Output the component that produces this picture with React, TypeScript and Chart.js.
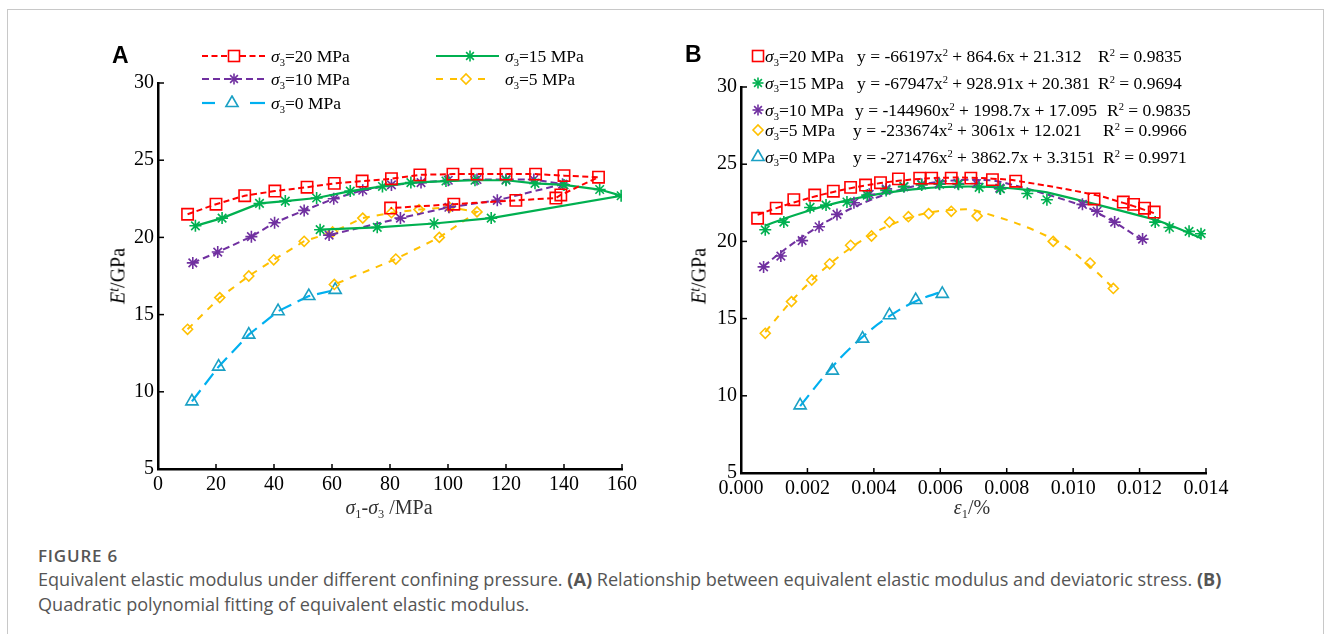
import React, { useEffect, useRef } from "react";
import { Chart, registerables } from "chart.js";

Chart.register(...registerables);

// ---------------- DATA ----------------
// Confining pressures (MPa)
const pressureLabels = ["20", "15", "10", "5", "0"];

// Panel A x values: deviatoric stress σ1-σ3 (MPa), in test order
const stress20 = [10.2, 20, 29.9, 40.3, 51.4, 60.8, 70.4, 80.5, 90.3, 101.7, 110, 120, 130.2, 140, 151.9, 138.9, 137.2, 123.4, 102, 80.2];
const stress15 = [12.9, 22.1, 35.0, 43.9, 54.7, 66.3, 77.4, 87.2, 99.3, 109.3, 120, 130, 140, 152.3, 159.7, 114.9, 95.2, 75.6, 55.9];
const stress10 = [12, 20.6, 32.2, 40.2, 50.4, 60.6, 70.6, 80.5, 90.7, 100.1, 110, 120, 129.6, 139.5, 117, 100.3, 83.6, 59];
const stress5 = [10.2, 21.3, 31.3, 39.9, 50.4, 60.2, 70.6, 80.5, 90, 100.5, 110, 97, 82, 60.8];
const stress0 = [11.7, 20.9, 31.3, 41.4, 52, 61.1];

// Panel B x values: axial strain ε1
const strain20 = [0.0005, 0.00106, 0.00159, 0.00222, 0.00278, 0.0033, 0.00375, 0.0042, 0.00474, 0.00538, 0.00574, 0.00633, 0.00692, 0.00757, 0.00827, 0.01063, 0.01151, 0.01182, 0.01215, 0.01244];
const strain15 = [0.00073, 0.00129, 0.00208, 0.00256, 0.00319, 0.0038, 0.00437, 0.0049, 0.00544, 0.00598, 0.00655, 0.00717, 0.00781, 0.00862, 0.00921, 0.01247, 0.0129, 0.01349, 0.01385];
const strain10 = [0.00068, 0.0012, 0.00184, 0.00235, 0.00289, 0.0034, 0.00386, 0.00437, 0.00491, 0.00544, 0.00596, 0.00653, 0.00709, 0.00779, 0.01028, 0.01072, 0.01125, 0.01209];
const strain5 = [0.00073, 0.00152, 0.00213, 0.00267, 0.0033, 0.00393, 0.00447, 0.00504, 0.00565, 0.00633, 0.00711, 0.0094, 0.01051, 0.01121];
const strain0 = [0.00178, 0.00275, 0.00366, 0.00447, 0.00526, 0.00606];

// Equivalent elastic modulus E^t (GPa)
const modulus20 = [21.5, 22.15, 22.7, 23.0, 23.25, 23.5, 23.65, 23.8, 24.05, 24.1, 24.1, 24.1, 24.1, 24.0, 23.9, 22.75, 22.55, 22.4, 22.15, 21.9];
const modulus15 = [20.75, 21.25, 22.2, 22.35, 22.55, 23.0, 23.3, 23.55, 23.65, 23.7, 23.7, 23.5, 23.4, 23.1, 22.7, 21.25, 20.9, 20.65, 20.5];
const modulus10 = [18.35, 19.05, 20.05, 20.95, 21.75, 22.5, 23.05, 23.4, 23.55, 23.7, 23.75, 23.75, 23.75, 23.45, 22.4, 21.95, 21.25, 20.15];
const modulus5 = [14.05, 16.1, 17.5, 18.55, 19.75, 20.35, 21.25, 21.6, 21.8, 21.95, 21.65, 20.0, 18.6, 16.95];
const modulus0 = [9.38, 11.63, 13.7, 15.22, 16.2, 16.6];

// Quadratic fits shown in panel B: y = a x^2 + b x + c
const fit20 = [-66197, 864.6, 21.312];
const fit15 = [-67947, 928.91, 20.381];
const fit10 = [-144960, 1998.7, 17.095];
const fit5 = [-233674, 3061, 12.021];
const fit0 = [-271476, 3862.7, 3.3151];
const r2Values = ["0.9835", "0.9694", "0.9835", "0.9966", "0.9971"];

// Axis ticks
const yMin = 5, yMax = 30, yStep = 5;
const xAMin = 0, xAMax = 160, xAStep = 20;
const xBMin = 0, xBMax = 0.014, xBStep = 0.002;

// ---------------- STYLES ----------------
const SERIF = '"Liberation Serif", "Times New Roman", serif';
type Sty = { color: string; mcolor: string; point: string; r: number; dash: number[]; lw: number };
const STY: Sty[] = [
  { color: "#FF0000", mcolor: "#FF0000", point: "rect", r: 8, dash: [6, 3.5], lw: 2 },
  { color: "#00B050", mcolor: "#00B050", point: "star", r: 6, dash: [], lw: 2.2 },
  { color: "#7030A0", mcolor: "#7030A0", point: "star", r: 6, dash: [7, 4], lw: 2 },
  { color: "#FFC000", mcolor: "#FFC000", point: "rectRot", r: 5, dash: [7, 7], lw: 2 },
  { color: "#00B0F0", mcolor: "#1AA0C4", point: "triangle", r: 7, dash: [14, 7], lw: 2.2 },
];

const stressSets = [stress20, stress15, stress10, stress5, stress0];
const strainSets = [strain20, strain15, strain10, strain5, strain0];
const modulusSets = [modulus20, modulus15, modulus10, modulus5, modulus0];
const fitSets = [fit20, fit15, fit10, fit5, fit0];

const innerTicks = {
  id: "innerTicks",
  afterDraw(chart: any) {
    const { ctx, chartArea } = chart;
    const xs = chart.scales.x;
    const ys = chart.scales.y;
    ctx.save();
    ctx.strokeStyle = "#000";
    ctx.lineWidth = 1.5;
    xs.ticks.forEach((t: any) => {
      const p = xs.getPixelForValue(t.value);
      ctx.beginPath();
      ctx.moveTo(p, chartArea.bottom);
      ctx.lineTo(p, chartArea.bottom - 5);
      ctx.stroke();
    });
    ys.ticks.forEach((t: any) => {
      const p = ys.getPixelForValue(t.value);
      ctx.beginPath();
      ctx.moveTo(chartArea.left, p);
      ctx.lineTo(chartArea.left + 6, p);
      ctx.stroke();
    });
    ctx.restore();
  },
};

function baseScales(xMin: number, xMax: number, xStep: number, xFmt: (v: number) => string, yWidth: number, xHeight: number) {
  const tickFont = { family: SERIF, size: 20 };
  return {
    x: {
      type: "linear",
      min: xMin,
      max: xMax,
      ticks: { stepSize: xStep, color: "#000", font: tickFont, padding: 4, autoSkip: false, maxRotation: 0, callback: (v: any) => xFmt(Number(v)) },
      grid: { display: true, drawOnChartArea: false, drawTicks: false },
      border: { display: true, color: "#000", width: 2.5 },
      afterFit: (s: any) => { s.height = xHeight; s.paddingLeft = 0; s.paddingRight = 0; },
    },
    y: {
      type: "linear",
      min: yMin,
      max: yMax,
      ticks: { stepSize: yStep, color: "#000", font: tickFont, padding: 4, callback: (v: any) => String(v) },
      grid: { display: true, drawOnChartArea: false, drawTicks: false },
      border: { display: true, color: "#000", width: 2.5 },
      afterFit: (s: any) => { s.width = yWidth; s.paddingTop = 0; s.paddingBottom = 0; },
    },
  };
}

function buildA() {
  const datasets = STY.map((s, i) => ({
    label: pressureLabels[i],
    data: stressSets[i].map((x, k) => ({ x, y: modulusSets[i][k] })),
    showLine: true,
    borderColor: s.color,
    borderWidth: s.lw,
    borderDash: s.dash,
    pointStyle: s.point,
    pointRadius: s.r,
    pointBorderColor: s.mcolor,
    pointBackgroundColor: "rgba(255,255,255,0)",
    pointBorderWidth: 1.6,
    tension: 0,
    fill: false,
  }));
  return {
    type: "scatter",
    data: { datasets },
    options: {
      animation: false,
      responsive: false,
      devicePixelRatio: 1,
      layout: { padding: { left: 0, right: 38, top: 23, bottom: 0 } },
      plugins: { legend: { display: false }, tooltip: { enabled: false } },
      scales: baseScales(xAMin, xAMax, xAStep, (v) => String(v), 58, 61),
    },
    plugins: [innerTicks],
  };
}

function buildB() {
  const points = STY.map((s, i) => ({
    label: pressureLabels[i],
    data: strainSets[i].map((x, k) => ({ x, y: modulusSets[i][k] })),
    showLine: false,
    pointStyle: s.point,
    pointRadius: s.r,
    pointBorderColor: s.mcolor,
    pointBackgroundColor: "rgba(255,255,255,0)",
    pointBorderWidth: 1.6,
  }));
  const fits = STY.map((s, i) => {
    const [a, b, c] = fitSets[i];
    return {
      label: "fit " + pressureLabels[i],
      data: strainSets[i].map((x) => ({ x, y: a * x * x + b * x + c })),
      showLine: true,
      borderColor: s.color,
      borderWidth: s.lw,
      borderDash: s.dash,
      pointRadius: 0,
      tension: 0.4,
      fill: false,
    };
  });
  return {
    type: "scatter",
    data: { datasets: [...points, ...fits] },
    options: {
      animation: false,
      responsive: false,
      devicePixelRatio: 1,
      layout: { padding: { left: 0, right: 34, top: 27, bottom: 0 } },
      plugins: { legend: { display: false }, tooltip: { enabled: false } },
      scales: baseScales(xBMin, xBMax, xBStep, (v) => v.toFixed(3), 61, 57),
    },
    plugins: [innerTicks],
  };
}

function ChartCanvas({ left, top, width, height, build }: any) {
  const ref = useRef<HTMLCanvasElement>(null);
  useEffect(() => {
    const chart = new Chart(ref.current as HTMLCanvasElement, build());
    return () => chart.destroy();
  }, []);
  return <canvas ref={ref} width={width} height={height} style={{ position: "absolute", left, top, width, height }} />;
}

function MarkerShape({ kind, color, cx, cy }: any) {
  const sw = 1.6;
  if (kind === "rect") return <rect x={cx - 5.5} y={cy - 5.5} width={11} height={11} fill="#fff" stroke={color} strokeWidth={sw} />;
  if (kind === "star") {
    const r = 5.5, d = r * 0.7071;
    return (
      <g stroke={color} strokeWidth={sw}>
        <line x1={cx} y1={cy - r} x2={cx} y2={cy + r} />
        <line x1={cx - r} y1={cy} x2={cx + r} y2={cy} />
        <line x1={cx - d} y1={cy - d} x2={cx + d} y2={cy + d} />
        <line x1={cx - d} y1={cy + d} x2={cx + d} y2={cy - d} />
      </g>
    );
  }
  if (kind === "rectRot") {
    const r = 5;
    return <polygon points={`${cx - r},${cy} ${cx},${cy - r} ${cx + r},${cy} ${cx},${cy + r}`} fill="#fff" stroke={color} strokeWidth={sw} />;
  }
  const r = 7;
  return <polygon points={`${cx},${cy - r} ${cx + r * 0.866},${cy + r / 2} ${cx - r * 0.866},${cy + r / 2}`} fill="#fff" stroke={color} strokeWidth={sw} />;
}

function Sigma({ sub }: { sub: string }) {
  return (
    <>
      <i>σ</i>
      <span style={{ fontSize: "0.6em", position: "relative", top: "0.35em" }}>{sub}</span>
    </>
  );
}

const legendAPos = [
  { x: 201, y: 56, tx: 271, mx: 33 },
  { x: 435, y: 56, tx: 505, mx: 35 },
  { x: 201, y: 79, tx: 271, mx: 33 },
  { x: 435, y: 79, tx: 505, mx: 31 },
  { x: 201, y: 103, tx: 271, mx: 31 },
];

function LegendA() {
  return (
    <>
      {legendAPos.map((p, i) => {
        const s = STY[i];
        const dash = s.dash.length ? s.dash.join(" ") : undefined;
        return (
          <React.Fragment key={i}>
            <svg style={{ position: "absolute", left: p.x, top: p.y - 8 }} width={66} height={16}>
              {i === 4 ? (
                <>
                  <line x1={1} y1={8} x2={14} y2={8} stroke={s.color} strokeWidth={2.2} />
                  <line x1={49} y1={8} x2={64} y2={8} stroke={s.color} strokeWidth={2.2} />
                </>
              ) : (
                <line x1={1} y1={8} x2={i === 3 ? 55 : 64} y2={8} stroke={s.color} strokeWidth={s.lw} strokeDasharray={dash} />
              )}
              <MarkerShape kind={s.point} color={s.mcolor} cx={p.mx} cy={8} />
            </svg>
            <div style={{ position: "absolute", left: p.tx, top: p.y - 12, height: 24, lineHeight: "24px", fontFamily: SERIF, fontSize: 17.5, whiteSpace: "nowrap", color: "#000" }}>
              <Sigma sub="3" />={pressureLabels[i]} MPa
            </div>
          </React.Fragment>
        );
      })}
    </>
  );
}

const legendBRows = [56, 82.7, 110, 130, 156.7];
const legendBEqX = [857, 857, 855, 853, 853];
const legendBR2X = [1098, 1098, 1107, 1103, 1103];

function LegendB() {
  const txt: any = { position: "absolute", height: 24, lineHeight: "24px", fontFamily: SERIF, fontSize: 17.5, whiteSpace: "nowrap", color: "#000" };
  return (
    <>
      {legendBRows.map((y, i) => {
        const s = STY[i];
        const [a, b, c] = fitSets[i];
        return (
          <React.Fragment key={i}>
            <svg style={{ position: "absolute", left: 750, top: y - 8 }} width={16} height={16}>
              <MarkerShape kind={s.point} color={s.mcolor} cx={8} cy={8} />
            </svg>
            <div style={{ ...txt, left: 765, top: y - 12 }}>
              <Sigma sub="3" />={pressureLabels[i]} MPa
            </div>
            <div style={{ ...txt, left: legendBEqX[i], top: y - 12 }}>
              y = {String(a)}x<sup style={{ fontSize: "0.6em", verticalAlign: "0.55em", lineHeight: 0 }}>2</sup> + {String(b)}x + {String(c)}
            </div>
            <div style={{ ...txt, left: legendBR2X[i], top: y - 12 }}>
              R<sup style={{ fontSize: "0.6em", verticalAlign: "0.55em", lineHeight: 0 }}>2</sup> = {r2Values[i]}
            </div>
          </React.Fragment>
        );
      })}
    </>
  );
}

function YTitle({ cx, cy }: { cx: number; cy: number }) {
  return (
    <div style={{ position: "absolute", left: cx, top: cy, transform: "translate(-50%, -50%) rotate(-90deg)", fontFamily: SERIF, fontSize: 20, whiteSpace: "nowrap", color: "#000", lineHeight: "24px" }}>
      <i>E</i>
      <i style={{ fontSize: "0.7em", position: "relative", top: "-0.45em" }}>t</i>/GPa
    </div>
  );
}

export default function App() {
  const panelLetter: any = { position: "absolute", fontFamily: '"Liberation Sans", Arial, sans-serif', fontWeight: 700, fontSize: 23, lineHeight: "24px", color: "#000" };
  const xTitle: any = { position: "absolute", transform: "translate(-50%, -50%)", fontFamily: SERIF, fontSize: 20, lineHeight: "24px", whiteSpace: "nowrap", color: "#333" };
  const sub: any = { fontSize: "0.62em", position: "relative", top: "0.35em" };
  return (
    <div style={{ position: "absolute", left: 0, top: 0, width: 1330, height: 634, overflow: "hidden", background: "#fff" }}>
      <div style={{ position: "absolute", left: 7, top: 9, width: 1317, height: 700, border: "1px solid #c8c8c8", boxSizing: "border-box" }} />

      <ChartCanvas left={100} top={60} width={560} height={470} build={buildA} />
      <ChartCanvas left={680} top={60} width={560} height={470} build={buildB} />

      <div style={{ ...panelLetter, left: 112, top: 43 }}>A</div>
      <div style={{ ...panelLetter, left: 685, top: 42 }}>B</div>

      <LegendA />
      <LegendB />

      <YTitle cx={119} cy={276} />
      <YTitle cx={700} cy={276} />

      <div style={{ ...xTitle, left: 389, top: 508 }}>
        <i>σ</i><span style={sub}>1</span>-<i>σ</i><span style={sub}>3</span> /MPa
      </div>
      <div style={{ ...xTitle, left: 972, top: 508 }}>
        <i>ε</i><span style={sub}>1</span>/%
      </div>

      <div style={{ position: "absolute", left: 38, top: 545, fontFamily: '"Open Sans", sans-serif', fontWeight: 600, fontSize: 17, letterSpacing: 0.8, color: "#555", lineHeight: "22px" }}>
        FIGURE 6
      </div>
      <div style={{ position: "absolute", left: 38, top: 567, width: 1280, fontFamily: '"Open Sans", sans-serif', fontSize: 18.1, color: "#555", lineHeight: "25px", whiteSpace: "nowrap" }}>
        Equivalent elastic modulus under different confining pressure. <b>(A)</b> Relationship between equivalent elastic modulus and deviatoric stress. <b>(B)</b>
        <br />
        Quadratic polynomial fitting of equivalent elastic modulus.
      </div>
    </div>
  );
}
